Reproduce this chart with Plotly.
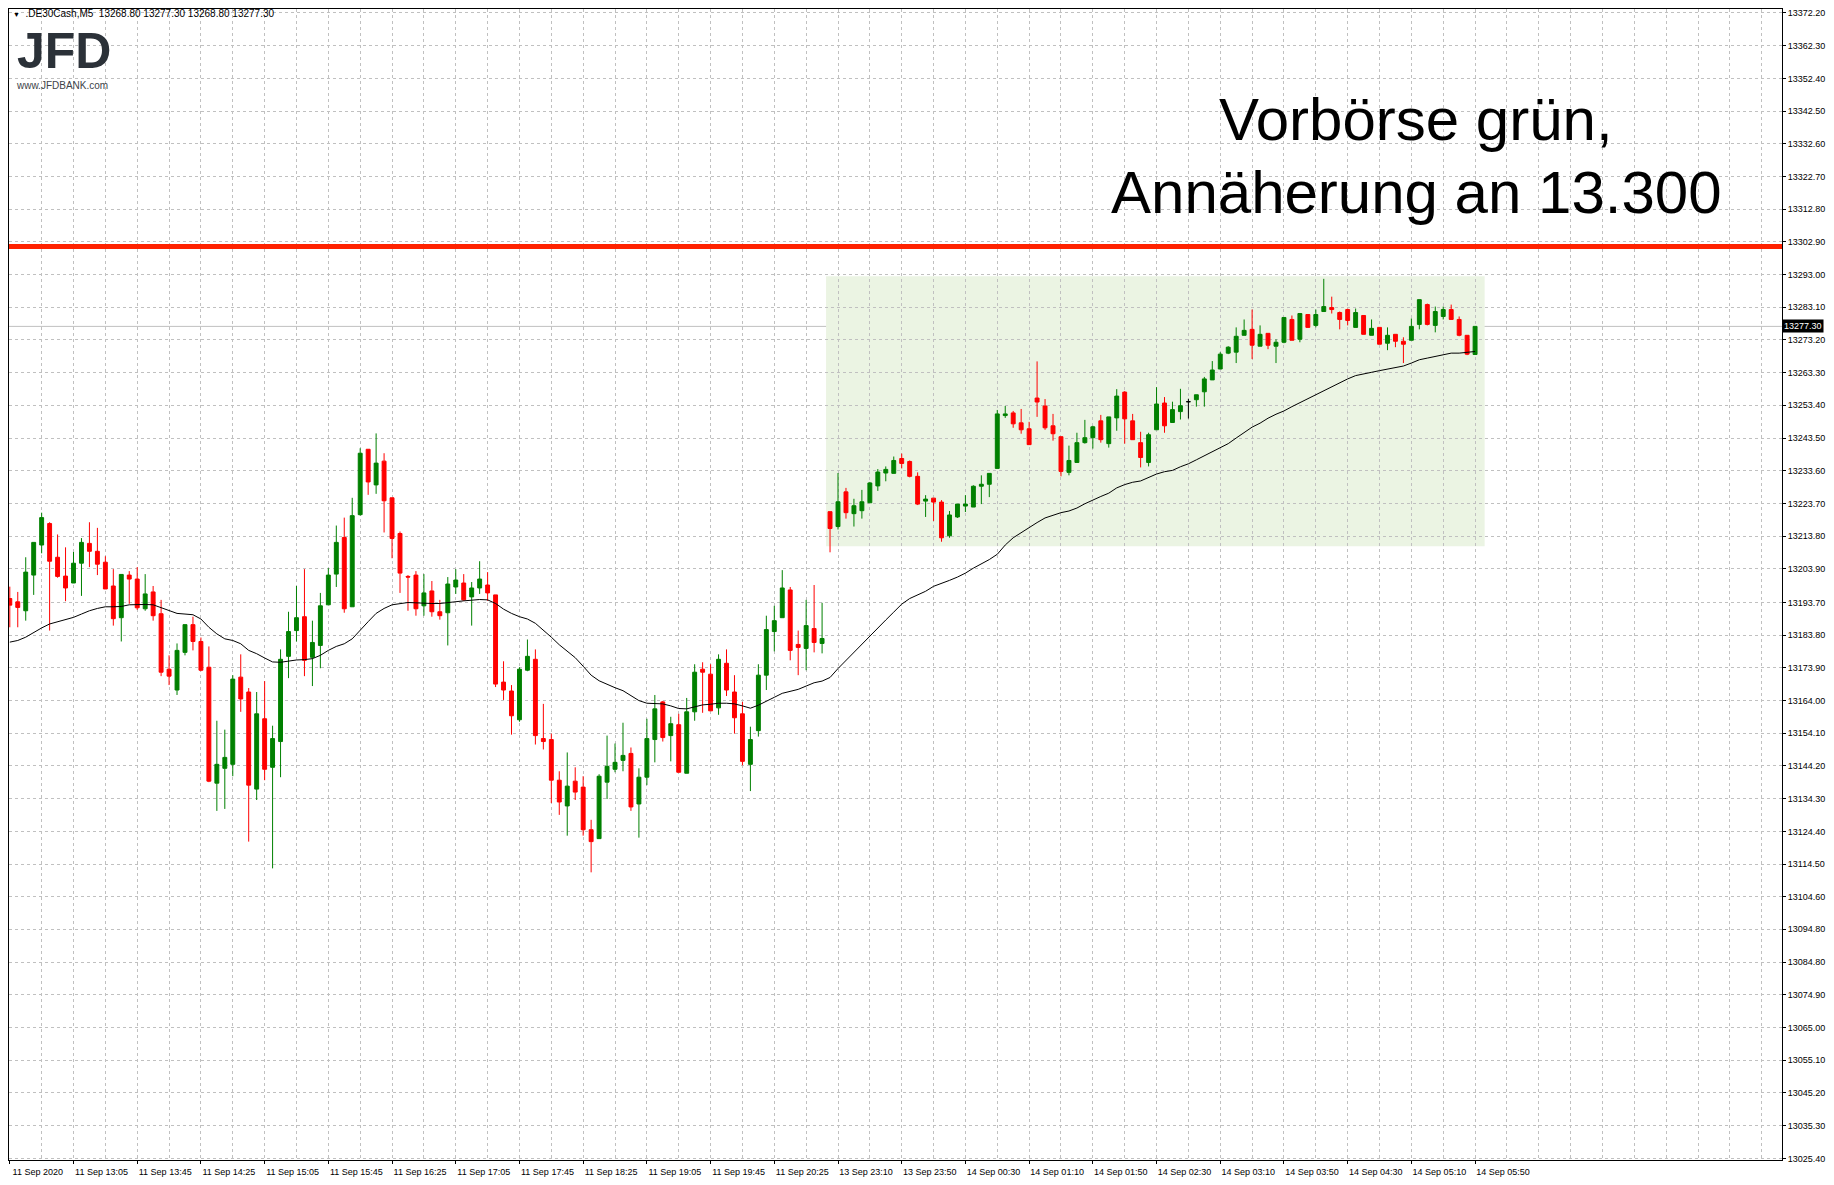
import plotly.graph_objects as go

# --- DE30 M5 candles (11 Sep 12:25 .. 14 Sep 05:50) ---
opens = [
    13194.9, 13193.9, 13191.2, 13202.0, 13211.1, 13217.6, 13207.4, 13201.7, 13199.6, 13205.6,
    13211.6, 13209.2, 13205.9, 13198.7, 13189.1, 13202.0, 13200.8, 13191.8, 13196.9, 13190.3,
    13173.5, 13167.2, 13178.6, 13187.0, 13181.9, 13174.1, 13139.0, 13143.5, 13144.7, 13171.1,
    13166.6, 13137.2, 13158.5, 13143.8, 13151.6, 13177.4, 13185.2, 13189.4, 13177.1, 13180.7,
    13193.0, 13202.3, 13213.4, 13192.4, 13220.3, 13240.1, 13229.3, 13236.5, 13225.4, 13214.6,
    13201.6, 13202.0, 13192.7, 13197.2, 13190.9, 13190.6, 13198.4, 13199.6, 13195.4, 13198.1,
    13199.0, 13196.0, 13169.6, 13166.9, 13158.2, 13173.2, 13176.5, 13152.5, 13152.2, 13139.9,
    13132.1, 13139.6, 13137.8, 13124.9, 13122.2, 13139.3, 13143.2, 13145.9, 13148.0, 13132.7,
    13140.8, 13152.2, 13163.6, 13153.4, 13156.7, 13142.0, 13160.6, 13173.5, 13172.0, 13161.8,
    13175.3, 13166.6, 13160.0, 13144.7, 13154.9, 13171.7, 13184.9, 13189.1, 13197.5, 13181.0,
    13179.8, 13185.8, 13181.3, 13221.2, 13216.7, 13227.2, 13220.6, 13221.5, 13223.9, 13229.0,
    13232.9, 13232.8, 13237.3, 13236.4, 13231.9, 13224.4, 13225.3, 13224.1, 13213.9, 13219.6,
    13222.9, 13222.6, 13228.9, 13229.5, 13234.3, 13250.3, 13251.1, 13248.1, 13246.3, 13255.6,
    13253.2, 13247.2, 13243.9, 13233.1, 13236.1, 13242.1, 13243.6, 13248.7, 13241.8, 13249.6,
    13257.4, 13248.7, 13242.1, 13236.1, 13246.0, 13254.1, 13248.2, 13251.5, 13254.5, 13255.1,
    13257.5, 13261.1, 13264.4, 13269.2, 13269.5, 13274.6, 13276.4, 13271.3, 13275.2, 13271.3,
    13272.5, 13279.4, 13273.4, 13280.9, 13277.6, 13281.8, 13283.0, 13281.5, 13282.4, 13277.0,
    13280.6, 13274.6, 13277.0, 13272.2, 13274.9, 13272.8, 13273.1, 13277.9, 13283.9, 13277.6,
    13280.3, 13282.4, 13279.4, 13274.6, 13268.8,
]
highs = [
    13198.5, 13196.9, 13207.4, 13211.9, 13220.9, 13218.0, 13214.3, 13210.4, 13209.0, 13213.2,
    13218.0, 13216.3, 13207.7, 13203.8, 13202.2, 13203.2, 13204.4, 13202.3, 13198.7, 13194.5,
    13177.7, 13181.3, 13187.0, 13189.4, 13183.1, 13180.4, 13157.9, 13155.2, 13171.7, 13178.0,
    13167.8, 13166.6, 13169.9, 13156.4, 13179.5, 13190.9, 13198.7, 13203.8, 13188.2, 13196.6,
    13204.1, 13217.0, 13219.4, 13225.4, 13240.4, 13240.1, 13244.9, 13238.9, 13225.4, 13215.2,
    13202.0, 13203.2, 13202.3, 13200.2, 13194.5, 13201.4, 13203.8, 13202.3, 13199.9, 13206.2,
    13202.9, 13196.0, 13175.9, 13168.7, 13174.1, 13182.5, 13179.5, 13163.0, 13154.0, 13142.6,
    13148.3, 13143.8, 13141.1, 13127.9, 13141.7, 13153.4, 13151.0, 13157.3, 13149.8, 13143.5,
    13158.5, 13165.7, 13163.9, 13159.1, 13160.0, 13164.8, 13175.0, 13175.6, 13175.0, 13178.0,
    13179.5, 13171.7, 13163.6, 13156.1, 13175.0, 13189.7, 13192.7, 13203.5, 13198.4, 13185.2,
    13194.5, 13199.0, 13193.6, 13221.2, 13232.9, 13228.4, 13225.1, 13227.8, 13230.2, 13234.1,
    13234.9, 13237.9, 13238.8, 13236.7, 13233.1, 13226.2, 13225.3, 13224.7, 13221.4, 13223.5,
    13226.2, 13229.2, 13232.2, 13232.8, 13252.0, 13253.2, 13251.7, 13252.3, 13248.4, 13266.7,
    13255.3, 13250.8, 13243.9, 13241.2, 13245.1, 13249.0, 13247.2, 13250.5, 13249.9, 13258.3,
    13257.7, 13250.8, 13245.4, 13245.1, 13258.9, 13255.9, 13254.5, 13258.4, 13255.4, 13256.6,
    13262.0, 13266.8, 13269.5, 13271.3, 13277.0, 13279.4, 13282.4, 13277.6, 13275.2, 13273.4,
    13280.0, 13280.6, 13281.2, 13280.9, 13282.4, 13291.7, 13286.3, 13281.8, 13282.7, 13282.7,
    13280.6, 13279.4, 13277.0, 13277.0, 13274.9, 13274.0, 13279.7, 13285.4, 13284.2, 13283.3,
    13283.3, 13283.9, 13280.3, 13274.6, 13277.3,
]
lows = [
    13186.2, 13186.2, 13188.2, 13196.0, 13208.6, 13185.2, 13201.2, 13194.1, 13199.6, 13195.7,
    13204.4, 13202.0, 13197.8, 13186.7, 13181.9, 13193.3, 13191.5, 13191.2, 13188.2, 13171.4,
    13168.7, 13165.7, 13177.7, 13179.2, 13172.9, 13139.3, 13130.6, 13131.2, 13141.1, 13160.6,
    13121.3, 13133.9, 13139.9, 13113.2, 13140.8, 13170.8, 13181.9, 13171.4, 13168.4, 13173.8,
    13193.0, 13198.4, 13190.6, 13192.4, 13220.0, 13226.3, 13226.6, 13214.9, 13207.1, 13196.6,
    13191.2, 13189.7, 13189.7, 13189.4, 13188.5, 13180.7, 13196.3, 13194.2, 13186.7, 13196.3,
    13194.2, 13168.1, 13164.2, 13153.7, 13157.6, 13172.9, 13150.7, 13149.2, 13133.0, 13129.4,
    13123.1, 13133.9, 13123.1, 13112.0, 13122.2, 13134.2, 13142.3, 13142.6, 13130.6, 13122.5,
    13138.4, 13145.3, 13151.6, 13145.6, 13142.3, 13142.0, 13157.9, 13160.3, 13160.9, 13159.7,
    13165.4, 13154.0, 13144.4, 13136.6, 13153.1, 13167.2, 13178.9, 13189.1, 13176.2, 13171.7,
    13173.2, 13178.6, 13178.3, 13208.9, 13215.8, 13219.1, 13216.7, 13219.1, 13223.9, 13227.5,
    13230.4, 13232.8, 13234.3, 13231.6, 13223.2, 13219.6, 13218.4, 13212.1, 13213.3, 13219.3,
    13221.1, 13222.6, 13223.5, 13225.6, 13234.3, 13249.6, 13246.6, 13244.8, 13241.5, 13249.9,
    13246.0, 13242.7, 13231.9, 13232.2, 13236.1, 13241.8, 13240.3, 13242.1, 13240.6, 13245.7,
    13241.8, 13243.0, 13234.6, 13234.9, 13246.0, 13245.1, 13248.2, 13249.1, 13249.4, 13253.0,
    13253.0, 13261.1, 13264.4, 13268.9, 13266.2, 13274.6, 13267.4, 13271.3, 13270.4, 13266.2,
    13272.2, 13273.1, 13272.5, 13277.0, 13277.0, 13281.8, 13281.2, 13276.4, 13277.6, 13277.0,
    13274.9, 13274.6, 13271.9, 13270.1, 13271.0, 13266.2, 13273.1, 13276.4, 13277.6, 13275.5,
    13279.4, 13279.4, 13274.3, 13268.6, 13268.8,
]
closes = [
    13192.9, 13192.2, 13202.9, 13211.9, 13219.4, 13206.2, 13201.6, 13198.1, 13205.6, 13211.9,
    13209.2, 13205.3, 13197.8, 13188.8, 13202.2, 13200.8, 13192.1, 13196.3, 13189.7, 13172.6,
    13171.4, 13179.2, 13187.0, 13181.9, 13173.2, 13139.6, 13144.7, 13146.8, 13170.5, 13164.5,
    13138.4, 13160.0, 13143.2, 13152.5, 13176.5, 13184.9, 13189.1, 13176.2, 13181.6, 13192.7,
    13202.0, 13211.9, 13191.8, 13220.0, 13238.9, 13230.2, 13235.9, 13224.5, 13213.1, 13202.6,
    13201.4, 13191.8, 13196.6, 13190.9, 13189.7, 13199.3, 13200.5, 13194.5, 13198.1, 13200.8,
    13196.6, 13169.0, 13167.2, 13159.4, 13173.5, 13177.4, 13153.4, 13151.6, 13139.9, 13133.3,
    13138.1, 13136.3, 13124.9, 13121.3, 13141.1, 13144.1, 13145.3, 13147.4, 13131.8, 13140.8,
    13152.5, 13161.5, 13152.8, 13157.0, 13142.3, 13160.6, 13172.6, 13172.6, 13160.9, 13176.5,
    13167.2, 13158.8, 13145.6, 13152.2, 13171.7, 13185.5, 13188.2, 13198.1, 13179.2, 13180.1,
    13186.7, 13181.6, 13182.8, 13216.1, 13224.2, 13220.9, 13223.0, 13224.2, 13229.9, 13233.2,
    13234.0, 13236.7, 13235.8, 13231.9, 13223.5, 13225.0, 13224.1, 13213.3, 13220.2, 13223.5,
    13223.5, 13228.9, 13229.5, 13232.8, 13250.8, 13250.8, 13247.8, 13246.0, 13241.5, 13254.4,
    13246.6, 13244.8, 13233.4, 13236.7, 13242.1, 13243.6, 13246.9, 13243.0, 13249.9, 13256.2,
    13249.3, 13243.0, 13237.6, 13244.5, 13253.8, 13247.2, 13252.1, 13253.3, 13254.5, 13256.6,
    13261.4, 13264.1, 13268.9, 13271.0, 13274.3, 13276.1, 13271.6, 13274.9, 13271.6, 13272.5,
    13280.0, 13273.1, 13281.2, 13277.0, 13280.9, 13283.3, 13282.4, 13279.4, 13279.1, 13281.5,
    13274.9, 13276.7, 13271.9, 13274.6, 13272.8, 13271.9, 13277.3, 13285.4, 13277.9, 13281.8,
    13282.4, 13279.4, 13274.6, 13268.9, 13277.3,
]
# moving average (thin black line)
ma = [
    13181.7, 13182.2, 13183.2, 13184.7, 13186.0, 13187.2, 13187.8, 13188.4, 13189.2, 13190.2,
    13191.2, 13191.9, 13192.4, 13192.4, 13192.5, 13193.0, 13193.1, 13193.1, 13193.0, 13192.2,
    13191.2, 13190.4, 13190.2, 13190.0, 13188.7, 13186.2, 13184.2, 13182.7, 13182.2, 13181.2,
    13179.2, 13178.2, 13176.9, 13175.7, 13175.6, 13176.0, 13176.3, 13176.4, 13176.7, 13177.7,
    13179.2, 13180.4, 13181.2, 13182.7, 13185.4, 13187.9, 13190.4, 13191.9, 13193.0, 13193.4,
    13193.7, 13193.6, 13193.4, 13193.4, 13193.4, 13193.7, 13194.1, 13194.2, 13194.4, 13194.6,
    13194.5, 13193.4, 13191.7, 13190.4, 13189.4, 13188.7, 13187.4, 13185.4, 13183.2, 13180.9,
    13179.0, 13177.0, 13174.4, 13171.7, 13170.0, 13168.9, 13167.9, 13167.0, 13165.4, 13164.0,
    13163.2, 13163.1, 13163.0, 13162.4, 13161.6, 13161.5, 13162.2, 13162.7, 13162.9, 13163.2,
    13163.2, 13163.0, 13162.4, 13161.7, 13162.6, 13163.7, 13165.0, 13166.2, 13166.9, 13167.4,
    13168.4, 13169.4, 13169.9, 13171.0, 13173.7, 13176.2, 13178.5, 13181.0, 13183.4, 13186.0,
    13188.4, 13190.8, 13193.2, 13194.9, 13195.9, 13197.1, 13198.6, 13199.4, 13200.4, 13201.4,
    13202.6, 13204.1, 13205.3, 13206.7, 13208.3, 13211.1, 13213.3, 13214.9, 13216.3, 13217.9,
    13219.3, 13220.2, 13220.9, 13221.4, 13222.3, 13223.6, 13224.8, 13225.8, 13226.8, 13228.4,
    13229.4, 13230.1, 13230.5, 13231.6, 13232.6, 13233.3, 13233.7, 13234.8, 13235.7, 13236.9,
    13238.1, 13239.2, 13240.5, 13241.8, 13243.5, 13245.2, 13246.8, 13248.0, 13249.5, 13250.7,
    13251.7, 13253.0, 13254.2, 13255.5, 13256.5, 13257.7, 13258.9, 13260.2, 13261.4, 13262.4,
    13263.0, 13263.4, 13263.9, 13264.4, 13264.8, 13265.3, 13266.2, 13267.2, 13267.7, 13268.2,
    13268.8, 13269.2, 13269.2, 13269.4, 13269.7,
]

time_labels = [
    "11 Sep 2020", "11 Sep 13:05", "11 Sep 13:45", "11 Sep 14:25", "11 Sep 15:05",
    "11 Sep 15:45", "11 Sep 16:25", "11 Sep 17:05", "11 Sep 17:45", "11 Sep 18:25",
    "11 Sep 19:05", "11 Sep 19:45", "11 Sep 20:25", "13 Sep 23:10", "13 Sep 23:50",
    "14 Sep 00:30", "14 Sep 01:10", "14 Sep 01:50", "14 Sep 02:30", "14 Sep 03:10",
    "14 Sep 03:50", "14 Sep 04:30", "14 Sep 05:10", "14 Sep 05:50",
]
price_labels = [
    "13372.20", "13362.30", "13352.40", "13342.50", "13332.60", "13322.70", "13312.80",
    "13302.90", "13293.00", "13283.10", "13273.20", "13263.30", "13253.40", "13243.50",
    "13233.60", "13223.70", "13213.80", "13203.90", "13193.70", "13183.80", "13173.90",
    "13164.00", "13154.10", "13144.20", "13134.30", "13124.40", "13114.50", "13104.60",
    "13094.80", "13084.80", "13074.90", "13065.00", "13055.10", "13045.20", "13035.30",
    "13025.40",
]

resistance = 13301.5          # red line
zone_bars = [102.5, 185.2]    # green pre-market box
zone_prices = [13210.7, 13292.5]

GREEN = "#008000"
RED = "#ff0000"
GRID = "#c0c0c0"
FONT = "Liberation Sans, Arial, sans-serif"

bars = list(range(len(opens)))
body = [i for i in bars if opens[i] != closes[i]]
doji = [i for i in bars if opens[i] == closes[i]]

fig = go.Figure()

fig.add_trace(go.Candlestick(
    x=body,
    open=[opens[i] for i in body], high=[highs[i] for i in body],
    low=[lows[i] for i in body], close=[closes[i] for i in body],
    increasing=dict(line=dict(color=GREEN, width=1), fillcolor=GREEN),
    decreasing=dict(line=dict(color=RED, width=1), fillcolor=RED),
    whiskerwidth=0, hoverinfo="skip",
))
# open == close candles are drawn black
fig.add_trace(go.Candlestick(
    x=doji,
    open=[opens[i] for i in doji], high=[highs[i] for i in doji],
    low=[lows[i] for i in doji], close=[closes[i] for i in doji],
    increasing=dict(line=dict(color="black", width=1), fillcolor="black"),
    decreasing=dict(line=dict(color="black", width=1), fillcolor="black"),
    whiskerwidth=0, hoverinfo="skip",
))
fig.add_trace(go.Scatter(x=bars, y=ma, mode="lines",
                         line=dict(color="black", width=1), hoverinfo="skip"))

# shaded zone, bid line, resistance
fig.add_shape(type="rect", xref="x", yref="y",
              x0=zone_bars[0], x1=zone_bars[1], y0=zone_prices[0], y1=zone_prices[1],
              fillcolor="#ebf4e3", line=dict(width=0), layer="below")
fig.add_shape(type="line", xref="paper", yref="y", x0=0, x1=1,
              y0=closes[-1], y1=closes[-1], line=dict(color=GRID, width=1), layer="between")
fig.add_shape(type="line", xref="paper", yref="y", x0=0, x1=1,
              y0=resistance, y1=resistance, line=dict(color="#ff2200", width=5))

# header and logo
header = ("<span style='font-size:7px'>▼</span>&nbsp; .DE30Cash,M5&nbsp; "
          f"{opens[-1]:.2f} {highs[-1]:.2f} {lows[-1]:.2f} {closes[-1]:.2f}")
fig.add_annotation(xref="paper", yref="paper", x=0, y=1, xanchor="left", yanchor="top",
                   xshift=2, yshift=3, text=header, showarrow=False,
                   font=dict(family=FONT, size=10, color="black"))
fig.add_annotation(xref="paper", yref="paper", x=0, y=1, xanchor="left", yanchor="top",
                   xshift=6, yshift=-12, text="<b>JFD</b>", showarrow=False,
                   font=dict(family=FONT, size=50, color="#2b3138"))
fig.add_annotation(xref="paper", yref="paper", x=0, y=1, xanchor="left", yanchor="top",
                   xshift=5, yshift=-69, text="www.JFDBANK.com", showarrow=False,
                   font=dict(family=FONT, size=10, color="#3d4349"))

# headline
for line_text, shift in [("Vorbörse grün,", -75), ("Annäherung an 13.300", -148)]:
    fig.add_annotation(xref="paper", yref="paper", x=0.7937, y=1, xanchor="center",
                       yanchor="top", yshift=shift, text=line_text, showarrow=False,
                       font=dict(family=FONT, size=60, color="black"))

# current price tag on the axis
fig.add_annotation(xref="paper", yref="y", x=1, y=closes[-1], xanchor="left",
                   yanchor="middle", text=f"{closes[-1]:.2f}", showarrow=False,
                   bgcolor="black", borderpad=1,
                   font=dict(family=FONT, size=9, color="white"))

# the page keeps an 8px body margin on every side, so the figure is 16px smaller
fig.update_layout(
    width=1818, height=1169,
    margin=dict(l=0, r=44, t=0, b=15),
    paper_bgcolor="white", plot_bgcolor="white",
    showlegend=False,
    font=dict(family=FONT, size=9, color="black"),
)
fig.update_xaxes(
    range=[-0.1, 222.54],
    tickmode="array", tickvals=bars[::8], ticktext=time_labels,
    ticks="outside", ticklen=3, tickcolor="black", ticklabelshift=28,
    tickfont=dict(size=9),
    showline=True, linecolor="black", linewidth=1, mirror=True,
    showgrid=False, zeroline=False,
    minor=dict(tickmode="array", tickvals=list(range(4, 223, 4)), ticks="",
               showgrid=True, gridcolor=GRID, griddash="3px,3px", gridwidth=1),
    rangeslider=dict(visible=False),
)
fig.update_yaxes(
    side="right", range=[13024.9, 13373.4],
    tickmode="array", tickvals=[float(p) for p in price_labels], ticktext=price_labels,
    ticks="outside", ticklen=3, tickcolor="black", tickfont=dict(size=9),
    ticklabeloverflow="allow",
    showline=True, linecolor="black", linewidth=1, mirror=True,
    showgrid=True, gridcolor=GRID, griddash="3px,3px", gridwidth=1, zeroline=False,
)

fig.write_html("out.html")
